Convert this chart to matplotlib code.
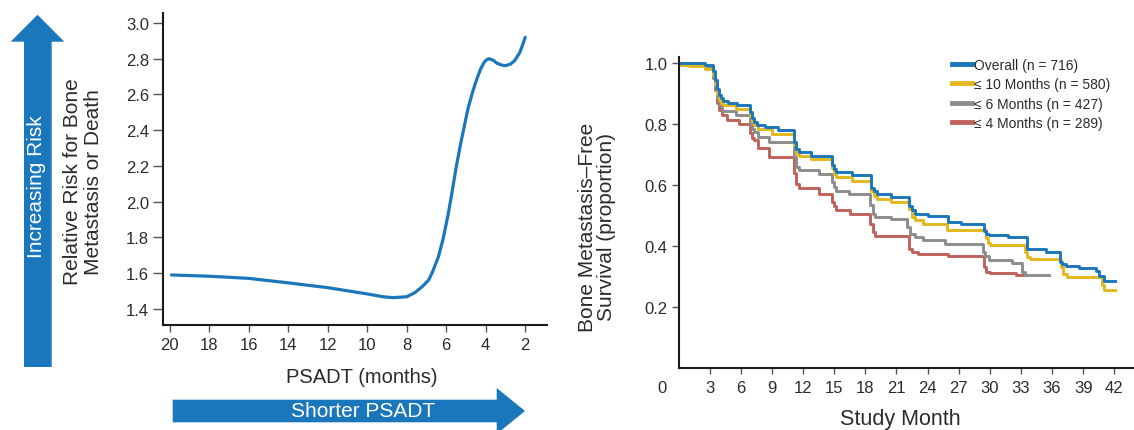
import matplotlib
matplotlib.use("Agg")
import matplotlib.pyplot as plt
from matplotlib.patches import Polygon
from matplotlib.transforms import ScaledTranslation

plt.rcParams['font.family'] = ['Liberation Sans', 'DejaVu Sans']

# risk spline: PSADT (months) vs relative risk
psadt_months = [19.9, 18.0, 16.0, 14.0, 12.0, 10.0, 9.2, 8.7, 8.0, 7.6, 7.25, 6.9, 6.7, 6.4,
                6.16, 5.9, 5.71, 5.5, 5.26, 4.9, 4.65, 4.44, 4.25, 4.08, 3.95, 3.81, 3.6,
                3.45, 3.2, 3.0, 2.75, 2.54, 2.27, 2.0]
relative_risk = [1.590, 1.583, 1.571, 1.546, 1.519, 1.484, 1.468, 1.463, 1.468, 1.490, 1.521,
                 1.560, 1.605, 1.690, 1.790, 1.930, 2.050, 2.190, 2.330, 2.520, 2.620, 2.690,
                 2.745, 2.780, 2.795, 2.800, 2.790, 2.776, 2.765, 2.761, 2.770, 2.789, 2.836,
                 2.920]
psadt_ticks = [20, 18, 16, 14, 12, 10, 8, 6, 4, 2]
risk_ticks = [1.4, 1.6, 1.8, 2.0, 2.2, 2.4, 2.6, 2.8, 3.0]

# Kaplan-Meier bone metastasis-free survival
overall_t = [0, 2.6, 3.3, 3.5, 3.7, 3.9, 4.1, 4.3, 4.8, 5.6, 6.9, 7.1, 7.3, 7.6, 8.3, 9.6,
             11.1, 11.3, 11.6, 12.8, 14.8, 15.0, 15.2, 16.7, 18.6, 18.8, 19.1, 20.5, 22.2,
             22.5, 22.8, 24.0, 26.0, 27.2, 29.4, 29.6, 29.9, 31.8, 33.6, 33.9, 35.4, 36.8,
             37.0, 37.3, 38.6, 40.2, 40.5, 41.0, 42.1]
overall_s = [1.0, 0.994, 0.975, 0.945, 0.915, 0.895, 0.885, 0.877, 0.869, 0.861, 0.84, 0.82,
             0.806, 0.798, 0.79, 0.779, 0.74, 0.718, 0.707, 0.696, 0.665, 0.653, 0.642, 0.631,
             0.59, 0.581, 0.570, 0.559, 0.53, 0.516, 0.504, 0.497, 0.479, 0.472, 0.45, 0.44,
             0.436, 0.428, 0.39, 0.388, 0.381, 0.345, 0.34, 0.335, 0.326, 0.318, 0.302, 0.285,
             0.285]
le10_t = [0, 1.0, 2.6, 3.3, 3.5, 3.7, 3.9, 4.1, 4.3, 5.5, 6.9, 7.1, 7.3, 7.7, 9.0, 11.1, 11.3,
          11.6, 12.8, 14.8, 15.0, 15.2, 16.7, 18.6, 18.8, 19.1, 20.5, 22.2, 22.5, 22.8, 23.6,
          25.9, 29.6, 29.8, 30.0, 33.4, 33.6, 33.9, 36.9, 37.1, 37.4, 40.8, 41.0, 42.1]
le10_s = [0.995, 0.99, 0.981, 0.96, 0.93, 0.90, 0.88, 0.87, 0.861, 0.85, 0.825, 0.81, 0.795,
          0.784, 0.768, 0.73, 0.702, 0.696, 0.685, 0.655, 0.636, 0.625, 0.614, 0.58, 0.565,
          0.554, 0.543, 0.52, 0.494, 0.486, 0.472, 0.452, 0.425, 0.41, 0.403, 0.38, 0.362,
          0.358, 0.33, 0.307, 0.296, 0.27, 0.253, 0.253]
le6_t = [0, 2.6, 3.3, 3.5, 3.7, 3.9, 4.2, 5.5, 6.9, 7.1, 7.3, 7.7, 8.7, 11.1, 11.3, 11.6, 13.5,
         14.8, 15.0, 15.2, 16.4, 18.5, 18.7, 18.9, 20.5, 22.0, 22.3, 22.8, 23.6, 25.7, 29.3,
         29.5, 29.9, 32.1, 33.1, 33.4, 35.7]
le6_s = [0.995, 0.985, 0.955, 0.92, 0.885, 0.862, 0.842, 0.828, 0.80, 0.785, 0.773, 0.757,
         0.74, 0.69, 0.658, 0.65, 0.636, 0.61, 0.592, 0.581, 0.570, 0.535, 0.505, 0.495, 0.488,
         0.46, 0.439, 0.428, 0.42, 0.407, 0.38, 0.365, 0.354, 0.343, 0.315, 0.305, 0.305]
le4_t = [0, 2.6, 3.3, 3.5, 3.7, 3.9, 4.2, 4.7, 5.8, 6.9, 7.1, 7.3, 7.7, 8.7, 11.1, 11.3, 11.6,
         13.5, 14.8, 15.0, 15.2, 16.5, 18.5, 18.7, 18.9, 20.5, 22.2, 22.5, 23.1, 26.0, 29.4,
         29.6, 30.0, 32.5, 33.3]
le4_s = [0.995, 0.985, 0.95, 0.91, 0.87, 0.845, 0.83, 0.812, 0.801, 0.77, 0.755, 0.746, 0.72,
         0.69, 0.64, 0.603, 0.59, 0.57, 0.545, 0.532, 0.516, 0.505, 0.47, 0.445, 0.433, 0.431,
         0.39, 0.379, 0.373, 0.366, 0.33, 0.313, 0.311, 0.305, 0.305]
group_labels = ['Overall (n = 716)', '≤ 10 Months (n = 580)',
                '≤ 6 Months (n = 427)', '≤ 4 Months (n = 289)']
month_ticks = [0, 3, 6, 9, 12, 15, 18, 21, 24, 27, 30, 33, 36, 39, 42]
surv_ticks = [0.2, 0.4, 0.6, 0.8, 1.0]

BLUE = '#1b77bb'
YELLOW = '#e3b81e'
GRAY = '#8c8c8c'
RED = '#c0625c'
INK = '#2b2b2b'

W, H = 1134, 431
fig = plt.figure(figsize=(W / 100, H / 100), dpi=100)


def fx(px):
    return px / W


def fy(py):
    return 1 - py / H


# ---- left panel ----
ax1 = fig.add_axes([fx(163), fy(326), fx(547 - 163), (326 - 14) / H])
ax1.plot(psadt_months, relative_risk, color=BLUE, lw=2.3, solid_capstyle='round')
ax1.set_xlim(20.33, 0.9)
ax1.set_ylim(1.31, 3.056)
ax1.set_xticks(psadt_ticks)
ax1.set_yticks(risk_ticks)
ax1.set_yticklabels([f'{v:.1f}' for v in risk_ticks])
ax1.tick_params(axis='x', direction='out', length=5, width=1, color='#555555',
                labelsize=12, labelcolor=INK, pad=4)
ax1.tick_params(axis='y', direction='out', length=7, width=1, color='#555555',
                labelsize=12, labelcolor=INK, pad=3)
for s in ['top', 'right']:
    ax1.spines[s].set_visible(False)
for s in ['left', 'bottom']:
    ax1.spines[s].set_linewidth(1.5)
    ax1.spines[s].set_color('#1a1a1a')

fig.text(fx(83), fy(182), 'Relative Risk for Bone\nMetastasis or Death', rotation=90,
         ha='center', va='center', fontsize=15, color=INK, linespacing=1.1)
fig.text(fx(362), fy(378), 'PSADT (months)', ha='center', va='center', fontsize=14.5,
         color=INK)

# vertical arrow
up_arrow = [(24, 368), (51.7, 368), (51.7, 42.7), (64.3, 42.7), (37.5, 15.7),
            (10.7, 42.7), (24, 42.7)]
fig.patches.append(Polygon([(fx(x), fy(y)) for x, y in up_arrow], closed=True,
                           transform=fig.transFigure, facecolor=BLUE, edgecolor='none'))
fig.text(fx(37), fy(187), 'Increasing Risk', rotation=90, ha='center', va='center',
         fontsize=15, color='white')

# horizontal arrow
right_arrow = [(172.7, 400.7), (496.7, 400.7), (496.7, 389), (525, 412), (496.7, 435),
               (496.7, 423.3), (172.7, 423.3)]
fig.patches.append(Polygon([(fx(x), fy(y)) for x, y in right_arrow], closed=True,
                           transform=fig.transFigure, facecolor=BLUE, edgecolor='none'))
fig.text(fx(363), fy(412), 'Shorter PSADT', ha='center', va='center', fontsize=15,
         color='white')

# ---- right panel ----
ax2 = fig.add_axes([fx(678.5), fy(368.5), 1 - fx(678.5), (368.5 - 58) / H])
curves = [(le4_t, le4_s, RED), (le6_t, le6_s, GRAY),
          (le10_t, le10_s, YELLOW), (overall_t, overall_s, BLUE)]
lines = []
for t, s, c in curves:
    ln, = ax2.plot(t, s, drawstyle='steps-post', color=c, lw=2.1)
    lines.append(ln)
ax2.set_xlim(0, 43.9)
ax2.set_ylim(0, 1.02)
ax2.set_xticks(month_ticks)
ax2.set_yticks(surv_ticks)
ax2.set_yticklabels([f'{v:.1f}' for v in surv_ticks])
ax2.tick_params(axis='x', direction='out', length=4, width=1, color='#555555',
                labelsize=12, labelcolor=INK, pad=5)
ax2.tick_params(axis='y', direction='out', length=5, width=1, color='#555555',
                labelsize=12, labelcolor=INK, pad=3)
for s in ['top', 'right']:
    ax2.spines[s].set_visible(False)
for s in ['left', 'bottom']:
    ax2.spines[s].set_linewidth(1.5)
    ax2.spines[s].set_color('#1a1a1a')

# the "0" label sits left of the axis corner, without a tick mark
zero_tick = ax2.xaxis.get_major_ticks()[0]
zero_tick.tick1line.set_visible(False)
zero_tick.label1.set_transform(zero_tick.label1.get_transform()
                               + ScaledTranslation(-17 / 100, 0, fig.dpi_scale_trans))

fig.text(fx(597), fy(227), 'Bone Metastasis–Free\nSurvival (proportion)', rotation=90,
         ha='center', va='center', fontsize=15, color=INK, linespacing=1.0)
fig.text(fx(900), fy(420), 'Study Month', ha='center', va='center', fontsize=15.5, color=INK)

leg = ax2.legend(lines[::-1], group_labels, loc='upper left',
                 bbox_to_anchor=(fx(951.5), fy(59)), bbox_transform=fig.transFigure,
                 frameon=False, borderpad=0, borderaxespad=0, handlelength=1.45,
                 handletextpad=0.2, labelspacing=0.38,
                 prop={'family': ['Liberation Sans', 'DejaVu Sans'], 'size': 10})
for h in leg.legend_handles:
    h.set_linewidth(3.5)
for txt in leg.get_texts():
    txt.set_color(INK)

fig.savefig('out.png', dpi=100)
